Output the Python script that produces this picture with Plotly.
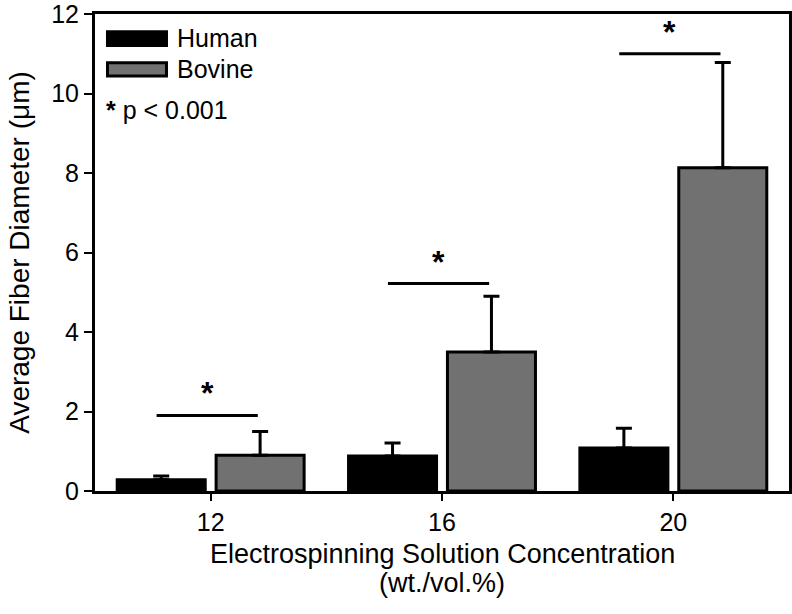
import plotly.graph_objects as go

categories = ["12", "16", "20"]
human_mean = [0.28, 0.88, 1.08]
human_err = [0.10, 0.33, 0.50]
bovine_mean = [0.90, 3.50, 8.13]
bovine_err = [0.60, 1.40, 2.65]
sig_y = [1.9, 5.22, 11.0]
y_ticks = [0, 2, 4, 6, 8, 10, 12]

FONT = "Liberation Sans"
BARGAP = 0.145
BARGROUPGAP = 0.11

x_pos = list(range(len(categories)))

fig = go.Figure()
fig.add_trace(go.Bar(
    x=x_pos, y=human_mean, name="Human",
    marker=dict(color="#000000", line=dict(color="#000000", width=3)),
    error_y=dict(type="data", symmetric=False, array=human_err,
                 arrayminus=[0] * len(human_err), color="#000000",
                 thickness=3, width=8),
))
fig.add_trace(go.Bar(
    x=x_pos, y=bovine_mean, name="Bovine",
    marker=dict(color="#717171", line=dict(color="#000000", width=3)),
    error_y=dict(type="data", symmetric=False, array=bovine_err,
                 arrayminus=[0] * len(bovine_err), color="#000000",
                 thickness=3, width=8),
))

# significance brackets between the centres of the two bars in each group
off = (1 - BARGAP) / 4
for xi, yv in zip(x_pos, sig_y):
    fig.add_shape(type="line", xref="x", yref="y",
                  x0=xi - off - 0.02, x1=xi + off - 0.01, y0=yv, y1=yv,
                  line=dict(color="#000000", width=3))
    fig.add_annotation(x=xi - 0.015, y=yv, xref="x", yref="y", text="<b>*</b>",
                       showarrow=False, yshift=22,
                       font=dict(family=FONT, size=32, color="#000000"))

# custom legend
fig.add_shape(type="rect", xref="paper", yref="paper",
              x0=0.018, x1=0.103, y0=0.934, y1=0.963,
              fillcolor="#000000", line=dict(color="#000000", width=3))
fig.add_shape(type="rect", xref="paper", yref="paper",
              x0=0.018, x1=0.103, y0=0.870, y1=0.898,
              fillcolor="#717171", line=dict(color="#000000", width=3))
fig.add_annotation(xref="paper", yref="paper", x=0.115, y=0.949, text="Human",
                   xanchor="left", yanchor="middle", showarrow=False,
                   font=dict(family=FONT, size=25, color="#000000"))
fig.add_annotation(xref="paper", yref="paper", x=0.115, y=0.884, text="Bovine",
                   xanchor="left", yanchor="middle", showarrow=False,
                   font=dict(family=FONT, size=25, color="#000000"))
fig.add_annotation(xref="paper", yref="paper", x=0.013, y=0.798, text="<b>*</b> p < 0.001",
                   xanchor="left", yanchor="middle", showarrow=False,
                   font=dict(family=FONT, size=25, color="#000000"))

# x-axis title (two lines, placed to match the reference line spacing)
fig.add_annotation(xref="paper", yref="paper", x=0.5, y=-0.133,
                   text="Electrospinning Solution Concentration",
                   xanchor="center", yanchor="middle", showarrow=False,
                   font=dict(family=FONT, size=27, color="#000000"))
fig.add_annotation(xref="paper", yref="paper", x=0.5, y=-0.192,
                   text="(wt./vol.%)",
                   xanchor="center", yanchor="middle", showarrow=False,
                   font=dict(family=FONT, size=27, color="#000000"))

fig.update_layout(
    width=792, height=614,
    margin=dict(l=95, r=3, t=14, b=123, autoexpand=False),
    paper_bgcolor="white", plot_bgcolor="white",
    barmode="group", bargap=BARGAP, bargroupgap=BARGROUPGAP,
    showlegend=False,
    font=dict(family=FONT, size=25, color="#000000"),
)
fig.update_xaxes(
    range=[-0.5, 2.5], tickvals=x_pos, ticktext=categories,
    showline=True, linecolor="#000000", linewidth=3, mirror=True,
    ticks="outside", ticklen=7, tickwidth=2, tickcolor="#000000",
    showgrid=False, zeroline=False, automargin=False,
    tickfont=dict(family=FONT, size=25),
)
fig.update_yaxes(
    range=[0, 12], tickvals=y_ticks,
    showline=True, linecolor="#000000", linewidth=3, mirror=True,
    ticks="outside", ticklen=8, tickwidth=2, tickcolor="#000000",
    showgrid=False, zeroline=False, automargin=False,
    ticklabeloverflow="allow",
    tickfont=dict(family=FONT, size=25),
    title=dict(text="Average Fiber Diameter (μm)",
               font=dict(family=FONT, size=28), standoff=14),
)

fig.write_html("out.html", config={"displayModeBar": False},
               post_script="document.body.style.margin='0';document.body.style.overflow='hidden';")
